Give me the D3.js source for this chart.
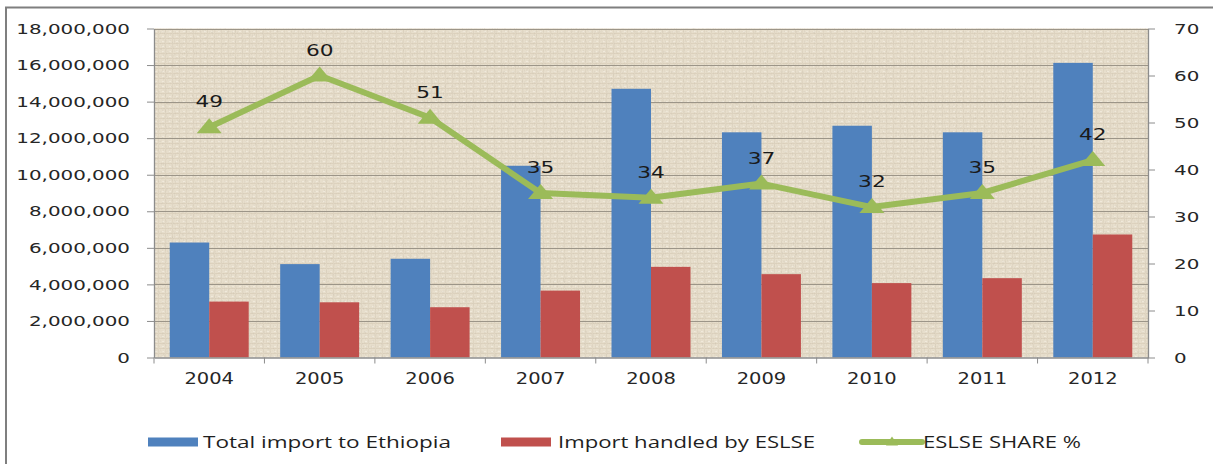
<!DOCTYPE html>
<html>
<head>
<meta charset="utf-8">
<script src="https://cdn.jsdelivr.net/npm/d3@7"></script>
<style>
  html, body { margin: 0; padding: 0; background: #ffffff; }
  svg { display: block; }
</style>
</head>
<body>
<svg id="chart" width="1213" height="464"></svg>
<script>
// Ethiopian imports, 2004–2012: total tonnage vs. tonnage handled by ESLSE, plus ESLSE share (%)
const years = ['2004', '2005', '2006', '2007', '2008', '2009', '2010', '2011', '2012'];
const totalImport = [6290000, 5110000, 5400000, 10490000, 14700000, 12320000, 12680000, 12320000, 16120000];
const eslseImport = [3060000, 3020000, 2750000, 3660000, 4960000, 4560000, 4070000, 4340000, 6730000];
const eslseShare = [49, 60, 51, 35, 34, 37, 32, 35, 42];

const leftTicks = [0, 2000000, 4000000, 6000000, 8000000, 10000000, 12000000, 14000000, 16000000, 18000000];
const rightTicks = [0, 10, 20, 30, 40, 50, 60, 70];

const seriesNames = ['Total import to Ethiopia', 'Import handled by ESLSE', 'ESLSE SHARE %'];
const seriesColors = ['#4F81BD', '#C0504D', '#9BBB59'];

const svg = d3.select('#chart');
const plot = { left: 154, right: 1148, top: 28.5, bottom: 357.5 };
const STRETCH = 1.37;   // wide lettering used throughout the chart

const x0 = d3.scaleBand().domain(years).range([plot.left, plot.right])
  .paddingInner(0.285).paddingOuter(0.1425);
const x1 = d3.scaleBand().domain([0, 1]).range([0, x0.bandwidth()]);
const yL = d3.scaleLinear().domain([0, 18000000]).range([plot.bottom, plot.top]);
const yR = d3.scaleLinear().domain([0, 70]).range([plot.bottom, plot.top]);

// ---- defs: beige canvas texture for the plot area
const defs = svg.append('defs');
const grain = defs.append('filter').attr('id', 'grain')
  .attr('x', 0).attr('y', 0).attr('width', '100%').attr('height', '100%');
grain.append('feTurbulence').attr('type', 'fractalNoise')
  .attr('baseFrequency', '0.9 0.35').attr('numOctaves', 2).attr('seed', 7).attr('result', 'n');
grain.append('feColorMatrix').attr('in', 'n').attr('type', 'matrix')
  .attr('values', '0 0 0 0 0.50  0 0 0 0 0.45  0 0 0 0 0.36  2.0 0 0 0 -0.95');

const weave = defs.append('pattern').attr('id', 'weave')
  .attr('patternUnits', 'userSpaceOnUse').attr('width', 7).attr('height', 5);
weave.append('rect').attr('width', 7).attr('height', 5).attr('fill', '#E7DECC');
weave.append('rect').attr('x', 0).attr('y', 3).attr('width', 7).attr('height', 1).attr('fill', '#DDD2BE');
weave.append('rect').attr('x', 4).attr('y', 0).attr('width', 1).attr('height', 5).attr('fill', '#E0D6C3');
weave.append('rect').attr('x', 1).attr('y', 1).attr('width', 2).attr('height', 1).attr('fill', '#F0E9DB');

// ---- outer frame
svg.append('line').attr('x1', 5).attr('x2', 1213).attr('y1', 7.5).attr('y2', 7.5)
  .attr('stroke', '#7f7f7f').attr('stroke-width', 2);
svg.append('line').attr('x1', 6).attr('x2', 6).attr('y1', 7).attr('y2', 464)
  .attr('stroke', '#7f7f7f').attr('stroke-width', 2);

// ---- plot background
const pw = plot.right - plot.left, ph = plot.bottom - plot.top;
svg.append('rect').attr('x', plot.left).attr('y', plot.top).attr('width', pw).attr('height', ph)
  .attr('fill', 'url(#weave)');
svg.append('rect').attr('x', plot.left).attr('y', plot.top).attr('width', pw).attr('height', ph)
  .attr('fill', '#000').attr('filter', 'url(#grain)').attr('opacity', 0.35);

// ---- gridlines
svg.append('g').selectAll('line').data(leftTicks.filter(d => d > 0)).join('line')
  .attr('x1', plot.left).attr('x2', plot.right)
  .attr('y1', d => Math.round(yL(d)) + 0.5).attr('y2', d => Math.round(yL(d)) + 0.5)
  .attr('stroke', '#9C9588').attr('stroke-width', 1);

// ---- bars
const groups = svg.append('g').selectAll('g').data(years).join('g')
  .attr('transform', d => `translate(${x0(d)},0)`);
groups.append('rect')
  .attr('x', x1(0)).attr('width', x1.bandwidth())
  .attr('y', (d, i) => yL(totalImport[i])).attr('height', (d, i) => yL(0) - yL(totalImport[i]))
  .attr('fill', seriesColors[0]);
groups.append('rect')
  .attr('x', x1(1)).attr('width', x1.bandwidth())
  .attr('y', (d, i) => yL(eslseImport[i])).attr('height', (d, i) => yL(0) - yL(eslseImport[i]))
  .attr('fill', seriesColors[1]);

// ---- axes
function stretchText(sel, dx, anchor) {
  sel.each(function () {
    const t = d3.select(this);
    t.attr('x', 0).attr('text-anchor', anchor)
      .attr('transform', `translate(${dx},0) scale(${STRETCH},1)`);
  });
}

const axisFont = '"DejaVu Sans", Verdana, sans-serif';
const leftAxis = svg.append('g').attr('transform', `translate(${plot.left},0)`)
  .call(d3.axisLeft(yL).tickValues(leftTicks).tickFormat(d3.format(',')).tickSize(7).tickSizeOuter(0));
const rightAxis = svg.append('g').attr('transform', `translate(${plot.right},0)`)
  .call(d3.axisRight(yR).tickValues(rightTicks).tickFormat(d3.format('d')).tickSize(7).tickSizeOuter(0));
const bottomAxis = svg.append('g').attr('transform', `translate(0,${plot.bottom})`)
  .call(d3.axisBottom(x0).tickSize(0).tickSizeOuter(0));

[leftAxis, rightAxis, bottomAxis].forEach(a => {
  a.select('.domain').attr('stroke', '#8C8C8C').attr('stroke-width', 1.3);
  a.selectAll('.tick line').attr('stroke', '#8C8C8C');
  a.selectAll('text').attr('font-family', axisFont).attr('font-size', 14.5).attr('fill', '#262626');
});
stretchText(leftAxis.selectAll('.tick text'), -24, 'end');
stretchText(rightAxis.selectAll('.tick text'), 26, 'start');
bottomAxis.selectAll('.tick text').attr('y', 0).attr('dy', 0).attr('font-size', 15)
  .attr('transform', `translate(0,26.5) scale(1.3,1)`);

// category boundary ticks below the baseline
svg.append('g').selectAll('line').data(d3.range(years.length + 1)).join('line')
  .attr('x1', i => plot.left + i * x0.step()).attr('x2', i => plot.left + i * x0.step())
  .attr('y1', plot.bottom).attr('y2', plot.bottom + 6)
  .attr('stroke', '#8C8C8C');

// ---- share line with triangle markers
const cx = d => x0(d) + x0.bandwidth() / 2;
const line = d3.line().x((d, i) => cx(years[i])).y(d => yR(d));
svg.append('path').datum(eslseShare).attr('d', line)
  .attr('fill', 'none').attr('stroke', seriesColors[2]).attr('stroke-width', 6)
  .attr('stroke-linejoin', 'round');

const tri = (w, h) => `M0,${-h * 0.6}L${w / 2},${h * 0.4}L${-w / 2},${h * 0.4}Z`;
svg.append('g').selectAll('path').data(eslseShare).join('path')
  .attr('transform', (d, i) => `translate(${cx(years[i])},${yR(d)})`)
  .attr('d', tri(25, 15)).attr('fill', seriesColors[2]);

// value labels
svg.append('g').selectAll('text').data(eslseShare).join('text')
  .attr('transform', (d, i) => `translate(${cx(years[i])},${yR(d) - 20}) scale(1.4,1)`)
  .attr('text-anchor', 'middle')
  .attr('font-family', axisFont).attr('font-size', 15.5).attr('fill', '#1a1a1a')
  .text(d => d);

// ---- legend
const legendFont = '"Open Sans", "Liberation Sans", sans-serif';
const legendY = 442;
const legendItems = [
  { x: 148, w: 50, tx: 203, len: 248 },
  { x: 501, w: 50, tx: 558, len: 257 },
  { x: 862, w: 60, tx: 923, len: 158 }
];
const lg = svg.append('g').selectAll('g').data(seriesNames).join('g');
lg.each(function (name, i) {
  const g = d3.select(this), it = legendItems[i];
  if (i < 2) {
    g.append('rect').attr('x', it.x).attr('y', legendY - 4.5).attr('width', it.w).attr('height', 9)
      .attr('fill', seriesColors[i]);
  } else {
    g.append('line').attr('x1', it.x).attr('x2', it.x + it.w).attr('y1', legendY).attr('y2', legendY)
      .attr('stroke', seriesColors[2]).attr('stroke-width', 6).attr('stroke-linecap', 'round');
    g.append('path').attr('transform', `translate(${it.x + it.w / 2},${legendY})`)
      .attr('d', tri(12, 9)).attr('fill', seriesColors[2]);
  }
  g.append('text').attr('x', it.tx).attr('y', legendY + 6)
    .attr('font-family', legendFont).attr('font-size', 16.5).attr('fill', '#1f1f1f')
    .attr('textLength', it.len).attr('lengthAdjust', 'spacingAndGlyphs')
    .text(name);
});
</script>
</body>
</html>
